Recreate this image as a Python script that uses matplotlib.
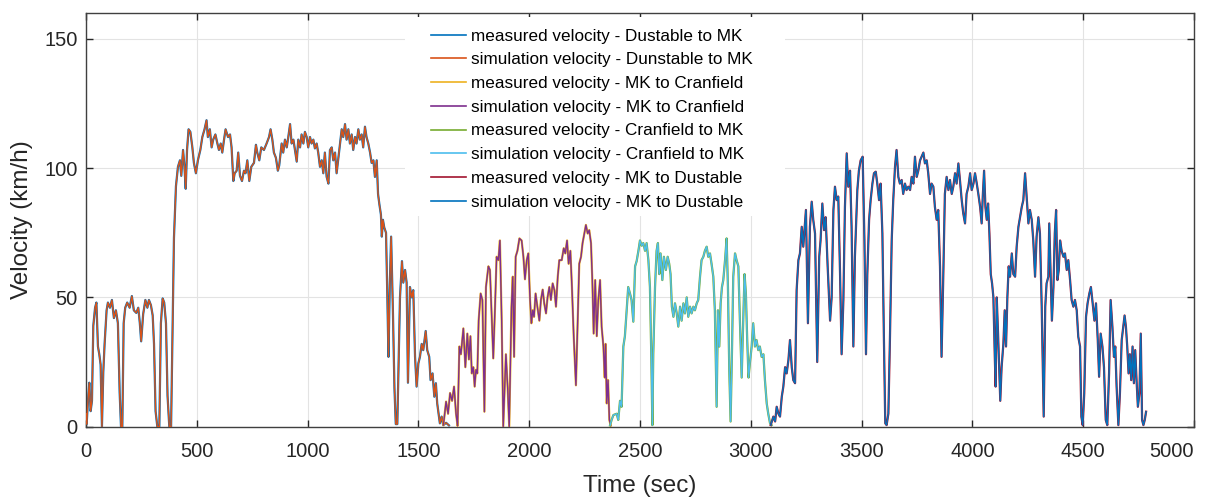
import matplotlib
matplotlib.use("Agg")
import matplotlib.pyplot as plt
from matplotlib.patches import Rectangle

# ---------------- data (time s, velocity km/h) ----------------
dun_mk = [(0,5),(3,1),(9,10),(15,17),(21,6),(27,10),(33,39),(41,46),(47,48),(54,31),(60,28),(66,24),(72,0),(78,21),(84,32),(93,45),(99,48),(108,46),(117,49),(126,42),(135,45),(144,40),(152,13),(158,0),(164,0),(170,40),(177,46),(186,48),(197,46),(207,50.5),(216,45),(227,44),(236,46),(243,40),(249,33),(258,43.5),(268,49),(277,46),(284,49),(293,47),(301,43),(307,32),(314,6),(322,0),(331,0),(338,40),(346,49.6),(353,48),(361,40),(368,12),(376,0),(384,0),(391,39),(397,73),(406,93),(415,100.5),(424,103),(430,97),(438,107),(444,101),(450,92),(456,107),(463,115),(471,114),(480,108),(487,102),(496,98),(505,103),(516,107),(525,112),(535,115),(544,118.5),(550,112),(559,115),(567,108),(574,111),(584,113),(593,109.5),(600,107),(608,109.5),(615,106),(623,111),(630,115),(641,112),(650,113),(657,108),(665,95),(671,98),(680,99),(687,106),(695,97),(704,95),(713,99),(720,98),(728,103),(737,95),(746,100.5),(758,102),(767,109),(773,106),(782,103),(791,108),(803,107),(815,109.5),(826,112),(833,115),(841,111),(848,106),(857,104),(866,99),(872,101),(883,109.5),(890,106),(898,111),(906,108),(913,112),(921,117),(928,109.5),(936,111),(943,107),(951,102.5),(958,111),(966,108),(973,113),(981,109.5),(988,114),(996,112),(1003,108),(1011,112),(1018,109.5),(1026,111),(1033,107.6),(1041,109.5),(1048,106),(1056,100.5),(1064,103),(1071,98),(1078,106),(1086,96.6),(1094,94),(1101,107),(1109,108),(1116,103),(1124,106),(1131,98),(1139,104),(1146,109.5),(1154,115),(1161,112),(1169,117),(1176,111),(1184,115),(1191,109.5),(1199,113),(1206,107),(1214,112),(1221,109.5),(1229,115),(1236,111),(1244,113),(1251,108),(1259,116),(1266,112),(1274,109.5),(1282,106),(1289,102),(1297,103),(1304,96.6),(1312,103),(1318,90),(1324,86),(1331,82),(1335,73.5),(1340,80),(1346,77),(1354,75),(1360,50),(1365,27),(1371,55),(1377,73.5),(1385,45),(1392,15),(1398,1),(1405,1),(1417,50),(1426,64),(1432,55.7),(1440,60.6),(1447,55.7),(1453,17),(1462,54),(1470,50),(1477,52.8),(1485,27),(1492,15.5),(1500,24.5),(1507,27),(1515,32),(1522,29.6),(1533,37),(1540,29.6),(1549,27),(1555,18),(1564,20.6),(1572,11.6),(1579,16.8),(1585,9),(1591,5),(1597,1.3),(1605,3.9),(1612,0.6),(1625,1.5),(1638,0.5)]

mk_cran = [(1613,0.6),(1625,9.7),(1634,5),(1643,13),(1652,10),(1661,15.5),(1670,5),(1677,0.3),(1685,31),(1692,28),(1703,38),(1712,23),(1721,36),(1728,26),(1735,35),(1741,20.6),(1748,23),(1754,15.5),(1760,22),(1766,20.6),(1772,41),(1781,51.5),(1789,49),(1798,5.8),(1805,54),(1816,62),(1823,60.6),(1831,42.5),(1838,26.4),(1846,46.4),(1853,65.7),(1861,64.4),(1868,72),(1876,41),(1883,0),(1895,28),(1903,15),(1910,0),(1920,46),(1926,58),(1932,27),(1939,65.7),(1947,68),(1956,72.8),(1966,72),(1974,65.7),(1981,57),(1989,64.4),(1996,67),(2004,49),(2010,40),(2016,45),(2022,42.5),(2029,51.5),(2037,46.4),(2046,41),(2053,49),(2061,53),(2068,47.7),(2076,43.8),(2083,50),(2091,54),(2098,49),(2106,55.4),(2114,52.8),(2121,46.4),(2129,58),(2136,64.4),(2147,64.4),(2156,69),(2163,67),(2171,72),(2178,63),(2186,68),(2193,54),(2201,35),(2211,16),(2219,41),(2226,63),(2234,65.7),(2241,71),(2249,74.7),(2256,78),(2264,74.7),(2271,76),(2279,71),(2285,56.7),(2291,36),(2298,56.7),(2305,35),(2312,49),(2320,56.7),(2327,38.7),(2335,31),(2341,19),(2345,32),(2350,9),(2356,18),(2362,2.6),(2368,0.4)]

cran_mk = [(2365,0.5),(2372,2.6),(2380,4.5),(2395,5),(2402,2.6),(2410,10),(2417,7.7),(2425,31),(2432,35),(2440,45),(2447,54),(2455,51.5),(2462,49),(2470,40.6),(2478,62),(2485,64),(2493,68),(2500,72),(2508,70),(2515,71),(2523,68),(2530,71),(2538,64.4),(2545,54),(2551,28),(2556,0.6),(2560,28),(2568,54),(2575,68),(2581,71),(2587,59),(2593,67),(2601,56.7),(2608,65.7),(2617,60.6),(2625,65.7),(2632,63),(2638,59),(2644,46.4),(2651,42.5),(2658,47.7),(2666,43.8),(2673,38.7),(2681,46.4),(2688,41),(2696,47.7),(2703,43.8),(2711,50),(2718,42.5),(2726,46.4),(2733,43.8),(2741,46.4),(2748,45),(2756,47.7),(2763,49),(2771,58),(2778,64.4),(2786,65.7),(2793,68),(2801,69.6),(2808,65.7),(2816,67),(2823,63),(2831,58),(2838,45),(2846,7.7),(2852,45),(2858,31),(2864,47.7),(2870,54),(2876,56.7),(2884,64.4),(2891,72.8),(2897,54),(2903,22),(2909,2),(2915,28),(2921,58),(2929,67),(2936,64.4),(2944,62),(2951,41),(2959,19),(2966,41),(2972,59),(2978,51.5),(2984,33.5),(2990,19),(2996,24.5),(3004,31),(3011,40),(3019,31),(3026,33.5),(3034,29.6),(3041,31),(3049,27),(3057,28),(3064,18),(3072,9),(3079,5),(3087,1.3),(3094,0.6)]

mk_dun = [(3090,0.6),(3102,3.9),(3110,2),(3117,7.7),(3125,5),(3132,3.9),(3140,11.6),(3147,15.5),(3155,23),(3162,20.6),(3170,25.8),(3177,33.5),(3185,23),(3192,18),(3200,16.8),(3207,52.8),(3215,64.4),(3222,67),(3230,77.3),(3237,69.6),(3249,83.8),(3258,40),(3267,77.3),(3275,87),(3282,80),(3290,74.7),(3300,25),(3309,65.7),(3315,72),(3323,86.3),(3331,76),(3338,81),(3347,62),(3358,41),(3365,50),(3373,83.8),(3380,92.8),(3388,87.6),(3395,89),(3403,59),(3410,28),(3418,49),(3425,85),(3433,105.7),(3440,92.8),(3448,99),(3455,77.3),(3463,31),(3470,65.7),(3481,91.5),(3488,99),(3496,103),(3505,104.4),(3513,72),(3520,28),(3526,59),(3534,80),(3541,87.6),(3549,94),(3556,98),(3564,98.6),(3571,94),(3579,87.6),(3586,94),(3594,74.7),(3601,33.5),(3607,1.3),(3613,0.6),(3621,5),(3628,33.5),(3636,72),(3643,87.6),(3651,100.5),(3658,107),(3666,96.6),(3673,94),(3681,95.4),(3688,90),(3696,94),(3703,91.5),(3711,92.8),(3719,91.5),(3726,96.6),(3734,94),(3741,104.4),(3749,96.6),(3756,99),(3764,103),(3771,104.4),(3779,106),(3786,101.8),(3794,103),(3801,98),(3809,90),(3816,94),(3824,92.8),(3831,85),(3839,80),(3846,83.8),(3854,62),(3861,27),(3869,59),(3876,90),(3884,96.6),(3892,91.5),(3899,95.4),(3907,90),(3914,92.8),(3922,98),(3929,94),(3937,101.8),(3944,95.4),(3952,87.6),(3959,82.5),(3967,78.6),(3974,90),(3982,92.8),(3990,98),(3997,91.5),(4005,94),(4012,98),(4020,94),(4027,90),(4035,85),(4042,78.6),(4047,89),(4053,99),(4059,85),(4065,80),(4071,86.3),(4077,74.7),(4083,59),(4089,55.4),(4095,50),(4101,28),(4105,15.5),(4110,50),(4116,36),(4122,20.6),(4126,10),(4132,23),(4140,32),(4146,45),(4152,31),(4158,50),(4164,62),(4170,58),(4178,67),(4185,59),(4193,58),(4200,69.6),(4208,77.3),(4215,81),(4223,85),(4230,87.6),(4238,98),(4245,89),(4253,78.6),(4260,83.8),(4268,80),(4275,72),(4283,58),(4290,73.5),(4298,81),(4305,74.7),(4313,46.4),(4322,3.9),(4329,46.4),(4335,55.4),(4343,58),(4347,78.6),(4353,59),(4359,41),(4366,54),(4372,74.7),(4378,83.8),(4384,56.7),(4390,60.6),(4396,72),(4403,68),(4411,65.7),(4418,67),(4426,60.6),(4433,64.4),(4441,56.7),(4448,49),(4456,46.4),(4463,49),(4471,45),(4478,34.8),(4486,31),(4492,3.9),(4498,0.6),(4505,12.9),(4513,42.5),(4520,47.7),(4528,51.5),(4535,54),(4543,47.7),(4551,41),(4558,47.7),(4566,33.5),(4572,19.3),(4579,36),(4587,31),(4594,23),(4602,2.6),(4609,0.6),(4617,20.6),(4624,49),(4632,38.7),(4639,27),(4645,31),(4651,15.5),(4659,0.6),(4666,12.9),(4674,33.5),(4681,38.7),(4687,43),(4693,38.7),(4699,31),(4705,20.6),(4711,28),(4717,18),(4723,31),(4729,16.8),(4735,29.6),(4741,18),(4747,7.7),(4754,12.9),(4760,36),(4766,2.6),(4772,0.6),(4778,2.6),(4784,5.8)]

labels = [
    "measured velocity - Dustable to MK",
    "simulation velocity - Dunstable to MK",
    "measured velocity - MK to Cranfield",
    "simulation velocity - MK to Cranfield",
    "measured velocity - Cranfield to MK",
    "simulation velocity - Cranfield to MK",
    "measured velocity - MK to Dustable",
    "simulation velocity - MK to Dustable",
]
colors = [
    (0.000, 0.447, 0.741), (0.850, 0.325, 0.098),
    (0.929, 0.694, 0.125), (0.494, 0.184, 0.556),
    (0.466, 0.674, 0.188), (0.301, 0.745, 0.933),
    (0.635, 0.078, 0.184), (0.000, 0.447, 0.741),
]
x_ticks = [0, 500, 1000, 1500, 2000, 2500, 3000, 3500, 4000, 4500, 5000]
y_ticks = [0, 50, 100, 150]

# ---------------- plot ----------------
plt.rcParams['font.family'] = ['Liberation Sans', 'DejaVu Sans']
fig = plt.figure(figsize=(12.06, 4.97), dpi=100)
ax = fig.add_axes([0.0713, 0.1415, 0.9187, 0.8325])

segments = [dun_mk, dun_mk, mk_cran, mk_cran, cran_mk, cran_mk, mk_dun, mk_dun]
for i, (seg, lab, col) in enumerate(zip(segments, labels, colors)):
    t = [p[0] for p in seg]
    v = [p[1] for p in seg]
    lw = 1.6 if i % 2 == 0 else 1.0
    ax.plot(t, v, color=col, lw=lw, label=lab, zorder=2 + i)

ax.set_xlim(0, 5000)
ax.set_ylim(0, 160)
ax.set_xticks(x_ticks)
ax.set_yticks(y_ticks)
ax.grid(True, color='#e3e3e3', lw=0.8, zorder=0)
ax.set_axisbelow(True)
ax.tick_params(direction='in', length=5, width=1, top=True, right=True,
               labelsize=14.5, colors='#262626')
ax.tick_params(axis='x', pad=11)
ax.tick_params(axis='y', pad=6)
ax.get_xticklabels()[-1].set_horizontalalignment('right')
for sp in ax.spines.values():
    sp.set_color('#404040')
    sp.set_linewidth(1.0)
ax.set_xlabel("Time (sec)", fontsize=17.5, color='#262626', labelpad=10)
ax.set_ylabel("Velocity (km/h)", fontsize=17.5, color='#262626', labelpad=8)

# white legend box (wider horizontal padding, as in the reference)
ax.add_patch(Rectangle((0.288, 0.509), 0.343, 0.481, transform=ax.transAxes,
                       facecolor='white', edgecolor='none', zorder=19))
leg = ax.legend(loc='upper left', bbox_to_anchor=(0.311, 0.962), fontsize=12.3,
                frameon=False, handlelength=2.1, handletextpad=0.25,
                labelspacing=0.51, borderpad=0, borderaxespad=0)
for h in leg.get_lines():
    h.set_linewidth(1.2)
leg.set_zorder(20)

fig.savefig("out.png", dpi=100)
